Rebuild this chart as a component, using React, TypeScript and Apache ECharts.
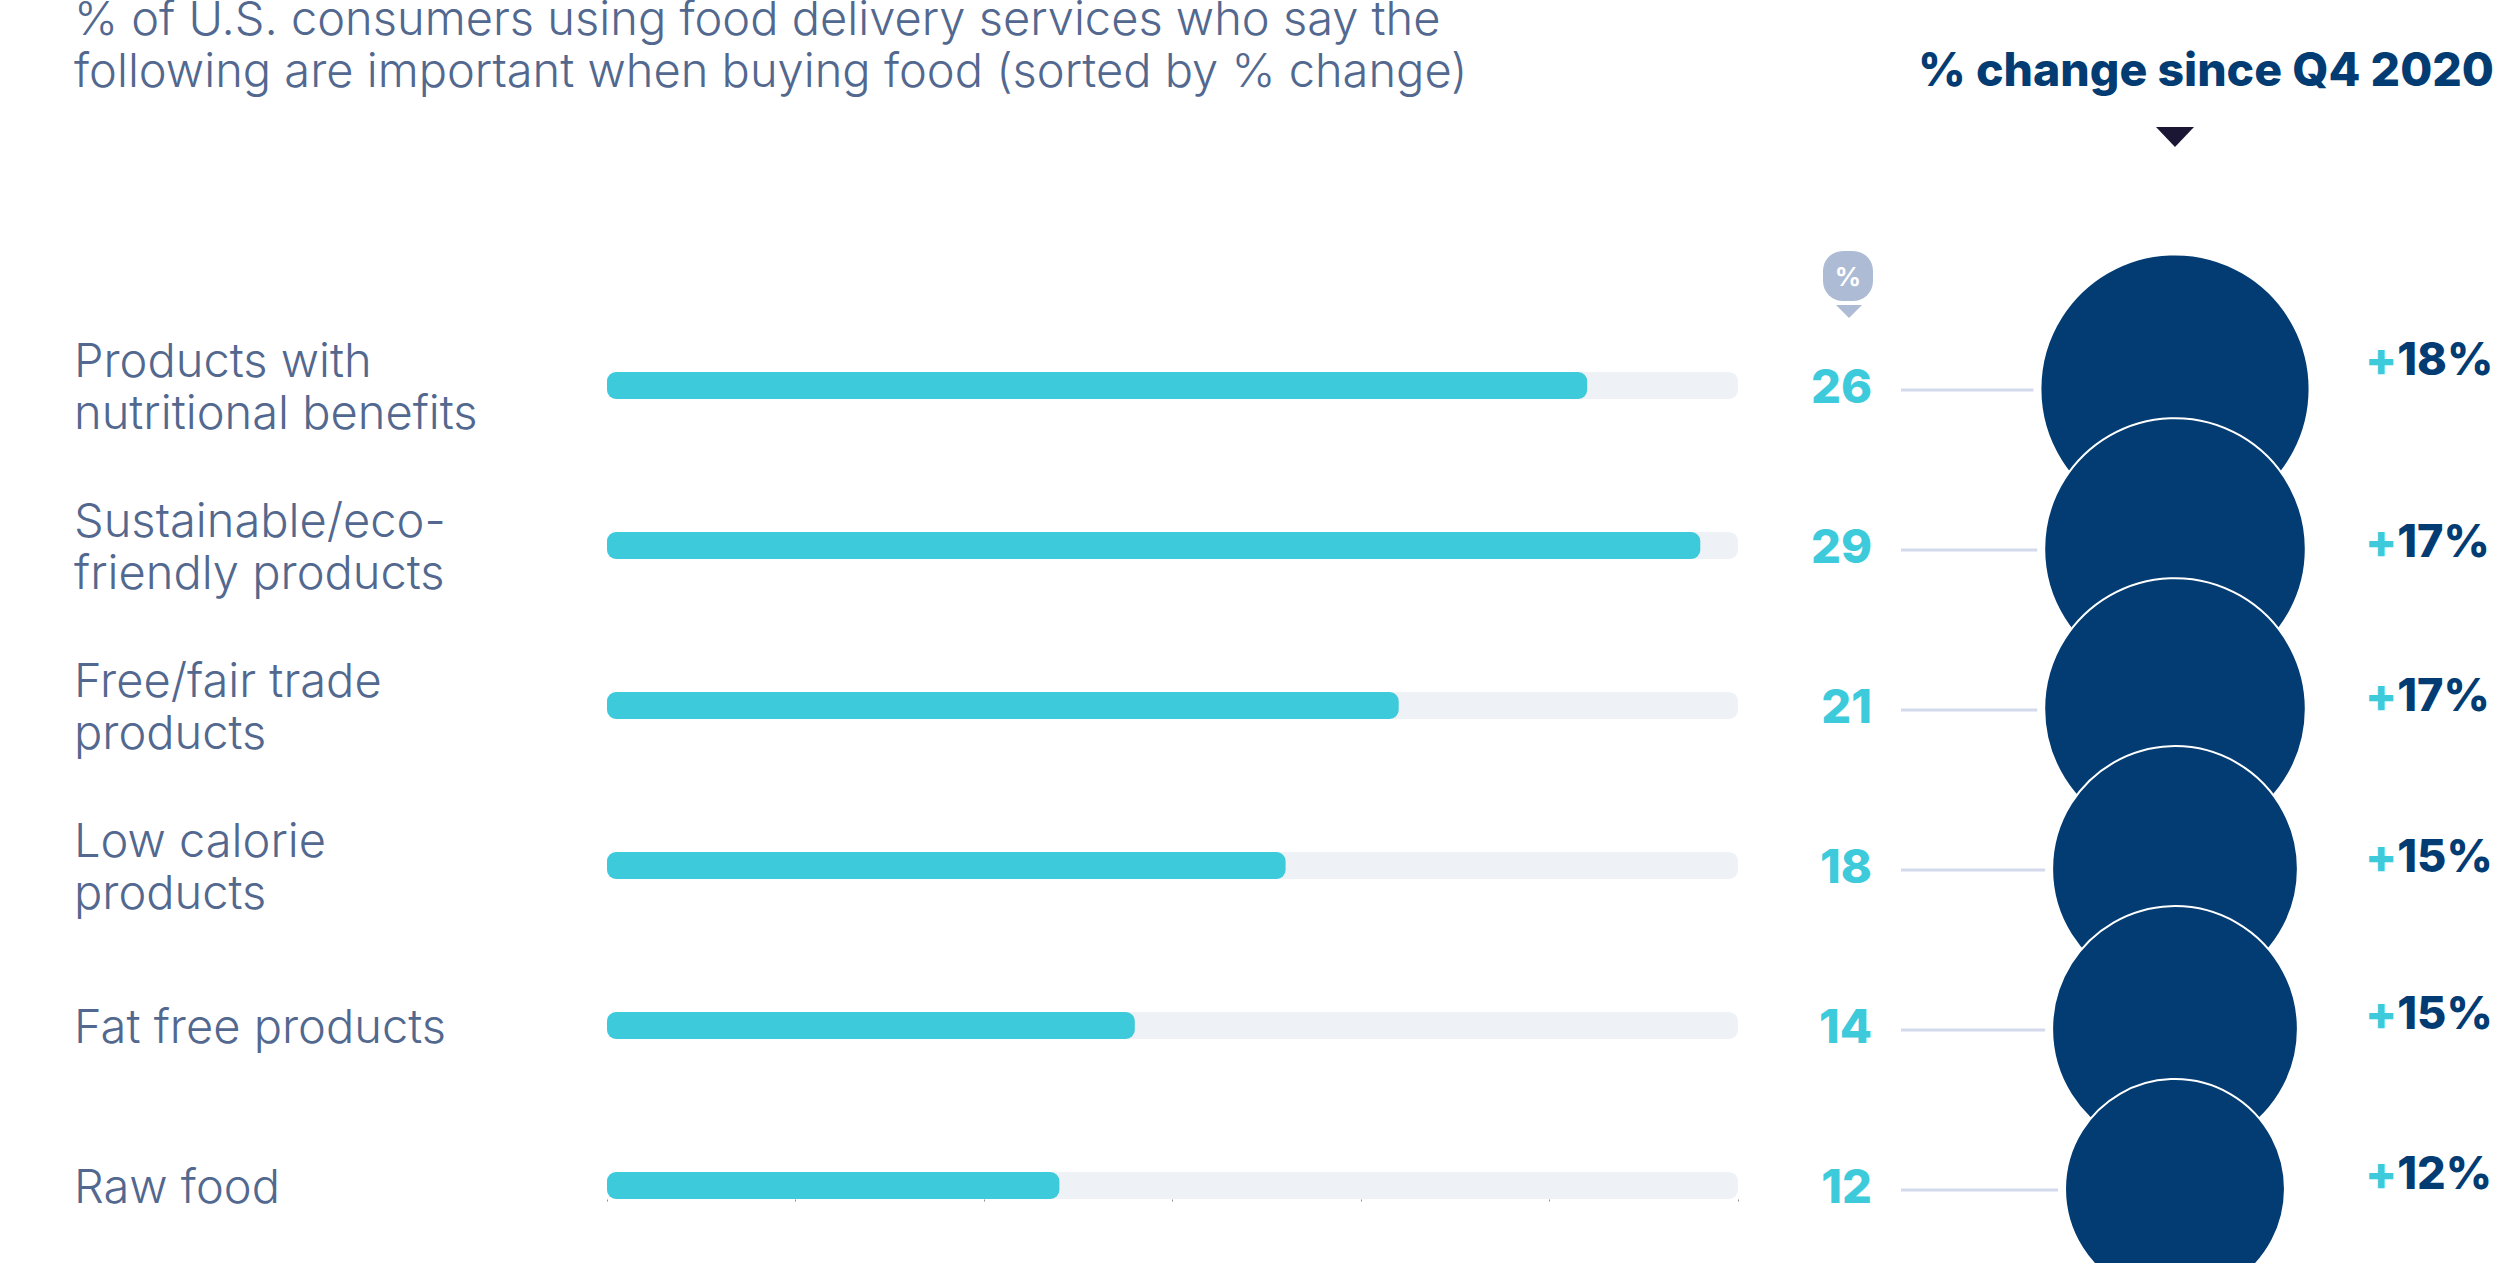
import React, { useEffect, useRef } from "react";
import * as echarts from "echarts";

const subtitle =
  "% of U.S. consumers using food delivery services who say the\nfollowing are important when buying food (sorted by % change)";
const changeHeading = "% change since Q4 2020";
const categories = [
  "Products with\nnutritional benefits",
  "Sustainable/eco-\nfriendly products",
  "Free/fair trade\nproducts",
  "Low calorie\nproducts",
  "Fat free products",
  "Raw food",
];
const shareValues = [26, 29, 21, 18, 14, 12];
const changeValues = [18, 17, 17, 15, 15, 12];
const axisMax = 30;
const axisStep = 5;

// Vertical nudge of each change label relative to its bubble centre.
const changeLabelLift = [-31, -9, -15, -14, -17, -17];

const TEAL = "#3dcbdb";
const TRACK = "#eef1f6";
const NAVY = "#033c72";
const SLATE = "#52688f";
const BADGE = "#adbbd4";
const LEADER = "#d3daeb";
const LIGHT_FONT = "Inter, 'Noto Sans', sans-serif";
const BOLD_FONT = "Inter, 'Noto Sans', sans-serif";

const ROW = 160;
const bubbleDiameter = (v: number) => 63.2 * Math.sqrt(v) + 1;

export default function App() {
  const ref = useRef<HTMLDivElement>(null);

  useEffect(() => {
    if (!ref.current) return;
    const chart = echarts.init(ref.current, undefined, { renderer: "svg" });

    chart.setOption({
      animation: false,
      backgroundColor: "#ffffff",
      title: {
        text: subtitle,
        left: 74,
        top: -9,
        padding: 0,
        textStyle: {
          color: SLATE,
          fontFamily: LIGHT_FONT,
          fontWeight: 300,
          fontSize: 47,
          lineHeight: 52,
        },
      },
      // The last rows run past the bottom of the canvas, so the grids must not be fitted to it.
      grid: [
        { left: 607, width: 1131, top: 305.5, height: ROW * 6, outerBoundsMode: "none" },
        { left: 1900, width: 550, top: 309, height: ROW * 6, outerBoundsMode: "none" },
      ],
      xAxis: [
        {
          type: "value",
          gridIndex: 0,
          min: 0,
          max: axisMax,
          interval: axisStep,
          offset: -66,
          axisLine: { show: false },
          axisTick: { show: true, length: 2, lineStyle: { color: "#8a8f99", width: 1 } },
          axisLabel: { show: false },
          splitLine: { show: false },
        },
        {
          type: "value",
          gridIndex: 1,
          min: 0,
          max: 2,
          show: false,
        },
      ],
      yAxis: [
        {
          type: "category",
          gridIndex: 0,
          inverse: true,
          data: categories,
          axisLine: { show: false },
          axisTick: { show: false },
          axisLabel: {
            align: "left",
            margin: 533,
            color: SLATE,
            fontFamily: LIGHT_FONT,
            fontWeight: 300,
            fontSize: 47,
            lineHeight: 52,
          },
        },
        {
          type: "category",
          gridIndex: 1,
          inverse: true,
          data: categories,
          show: false,
        },
      ],
      graphic: [
        {
          type: "text",
          x: 1918,
          y: 69,
          style: {
            text: changeHeading,
            fill: NAVY,
            font: `800 46.4px ${BOLD_FONT}`,
            textAlign: "left",
            textVerticalAlign: "middle",
          },
        },
        {
          type: "polygon",
          shape: { points: [[2156, 127], [2194, 127], [2175, 147]] },
          style: { fill: "#1a1633" },
        },
        {
          type: "rect",
          shape: { x: 1823, y: 251, width: 50, height: 50, r: 20 },
          style: { fill: BADGE },
        },
        {
          type: "text",
          x: 1848,
          y: 276,
          style: {
            text: "%",
            fill: "#ffffff",
            font: `700 26px ${BOLD_FONT}`,
            textAlign: "center",
            textVerticalAlign: "middle",
          },
        },
        {
          type: "polygon",
          shape: { points: [[1836, 305], [1862, 305], [1849, 318]] },
          style: { fill: BADGE },
        },
      ],
      series: [
        {
          name: "Scale",
          type: "bar",
          xAxisIndex: 0,
          yAxisIndex: 0,
          data: shareValues.map(() => axisMax),
          barWidth: 27,
          barGap: "-100%",
          itemStyle: { color: TRACK, borderRadius: 9 },
          silent: true,
          label: {
            show: true,
            position: "right",
            distance: 134,
            align: "right",
            verticalAlign: "middle",
            formatter: (p: { dataIndex: number }) => String(shareValues[p.dataIndex]),
            color: TEAL,
            fontFamily: BOLD_FONT,
            fontWeight: 800,
            fontSize: 47,
          },
        },
        {
          name: "Share",
          type: "bar",
          xAxisIndex: 0,
          yAxisIndex: 0,
          data: shareValues,
          barWidth: 27,
          barGap: "-100%",
          z: 3,
          itemStyle: { color: TEAL, borderRadius: 9 },
        },
        {
          name: "Leaders",
          type: "custom",
          xAxisIndex: 1,
          yAxisIndex: 1,
          data: changeValues.map((v, i) => [1, i, v]),
          z: 1,
          renderItem: (params: any, api: any) => {
            const c = api.coord([api.value(0), api.value(1)]);
            const r = bubbleDiameter(api.value(2)) / 2;
            return {
              type: "line",
              shape: { x1: 1901, y1: c[1] + 1, x2: c[0] - r - 7, y2: c[1] + 1 },
              style: { stroke: LEADER, lineWidth: 3 },
            };
          },
        },
        {
          name: "Change",
          type: "scatter",
          xAxisIndex: 1,
          yAxisIndex: 1,
          clip: false,
          z: 4,
          data: changeValues.map((v, i) => ({
            value: [1, i, v],
            symbolSize: bubbleDiameter(v),
            label: { offset: [190, changeLabelLift[i]] },
          })),
          itemStyle: { color: NAVY, borderColor: "#ffffff", borderWidth: 2, opacity: 1 },
          label: {
            show: true,
            position: "inside",
            align: "left",
            verticalAlign: "middle",
            formatter: (p: any) => `{plus|+}{num|${p.value[2]}%}`,
            rich: {
              plus: { color: TEAL, fontFamily: BOLD_FONT, fontWeight: 800, fontSize: 47 },
              num: { color: NAVY, fontFamily: BOLD_FONT, fontWeight: 800, fontSize: 45 },
            },
          },
        },
      ],
    });

    return () => chart.dispose();
  }, []);

  return (
    <div
      ref={ref}
      style={{ position: "absolute", left: 0, top: 0, width: 2494, height: 1263 }}
    />
  );
}
